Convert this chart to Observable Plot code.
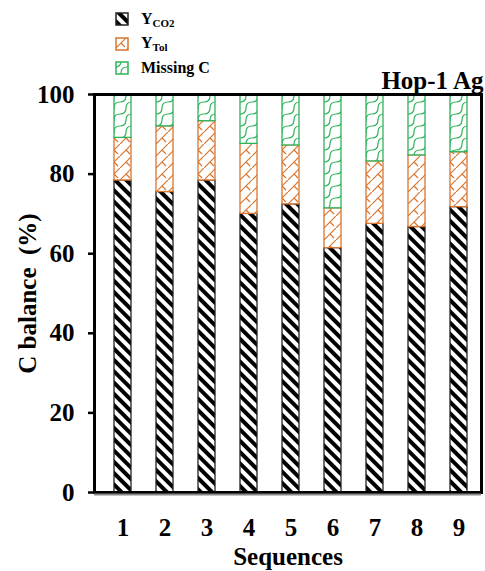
<!DOCTYPE html>
<html><head><meta charset="utf-8">
<script src="https://cdn.jsdelivr.net/npm/d3@7"></script>
<script src="https://cdn.jsdelivr.net/npm/@observablehq/plot@0.6"></script>
<style>
body{margin:0;background:#fff;font-family:"Liberation Serif",serif;}
#wrap{position:relative;width:485px;height:571px;}
#legend{position:absolute;left:115px;top:7px;font-family:"Liberation Serif",serif;font-weight:bold;font-size:16px;color:#000;}
.row{display:flex;align-items:center;height:24.5px;}
.row svg{margin-right:12px;flex:none}
sub{font-size:11px;vertical-align:-3px;}
svg text{font-family:"Liberation Serif",serif;}
</style></head><body>
<div id="wrap"><div id="legend"></div></div>
<script>
const sequences = ["1","2","3","4","5","6","7","8","9"];
const seriesNames = ["YCO2","YTol","Missing C"];
const yCO2     = [78.4, 75.5, 78.4, 70.0, 72.4, 61.4, 67.5, 66.7, 71.7];
const yTol     = [10.7, 16.5, 14.9, 17.6, 14.8, 10.0, 15.7, 18.0, 13.8];
const missingC = [10.9,  8.0,  6.7, 12.4, 12.8, 28.6, 16.8, 15.3, 14.5];
const yTicks = [0, 20, 40, 60, 80, 100];

const seriesValues = [yCO2, yTol, missingC];
const patternIds = ["pCO2", "pTol", "pMiss"];
const strokeColors = ["#222", "#D8752F", "#2EB35B"];
const serif = "Liberation Serif";

const data = [];
sequences.forEach((s, i) => seriesNames.forEach((n, k) => data.push({seq: s, series: n, k, value: seriesValues[k][i]})));

const chart = Plot.plot({
  width: 485, height: 571,
  marginTop: 94, marginBottom: 79, marginLeft: 94, marginRight: 4,
  style: {fontFamily: serif, fontWeight: "bold", color: "#000", background: "white"},
  x: {domain: sequences, range: [97.6, 483.4], paddingInner: 0.6, paddingOuter: 0.3},
  y: {domain: [0, 100]},
  color: {type: "identity"},
  marks: [
    Plot.barY(data, {x: "seq", y: "value", fill: d => `url(#${patternIds[d.k]})`, stroke: d => strokeColors[d.k], strokeWidth: 1.3}),
    Plot.frame({stroke: "#000", strokeWidth: 3}),
    Plot.ruleY([0], {stroke: "#8a8a8a", strokeWidth: 2, dy: 2}),
    Plot.axisY({ticks: yTicks, tickSize: 6, tickPadding: 14, fontSize: 25, fontFamily: serif, fontWeight: "bold", strokeWidth: 2.5,
      label: "C balance  (%)", labelAnchor: "center", labelArrow: "none", labelOffset: 76}),
    Plot.axisX({tickSize: 0, tickPadding: 26, fontSize: 25, fontFamily: serif, fontWeight: "bold",
      label: "Sequences", labelAnchor: "center", labelArrow: "none", labelOffset: 72}),
    Plot.text(["Hop-1 Ag"], {frameAnchor: "top-right", dx: 2, dy: -6, lineAnchor: "bottom", textAnchor: "end", fontSize: 25, fontFamily: serif, fontWeight: "bold"})
  ]
});

const defsHTML = `
<pattern id="pCO2" patternUnits="userSpaceOnUse" width="8" height="8" patternTransform="rotate(-45)">
  <rect width="8" height="8" fill="white"/><rect width="4" height="8" fill="black"/>
</pattern>
<pattern id="pTol" patternUnits="userSpaceOnUse" width="12" height="12">
  <rect width="12" height="12" fill="white"/>
  <path d="M0,12 L12,0 M6,6 L10,10" stroke="#D8752F" stroke-width="1.2" fill="none"/>
</pattern>
<pattern id="pMiss" patternUnits="userSpaceOnUse" width="12" height="12">
  <rect width="12" height="12" fill="white"/>
  <path d="M0,6 Q6,6 6,0 M6,12 Q6,6 12,6" stroke="#2EB35B" stroke-width="1.2" fill="none"/>
</pattern>`;
const defs = document.createElementNS("http://www.w3.org/2000/svg", "defs");
defs.innerHTML = defsHTML;
chart.insertBefore(defs, chart.firstChild);
document.getElementById("wrap").appendChild(chart);

const labelsHTML = ["Y<sub>CO2</sub>", "Y<sub>Tol</sub>", "Missing C"];
const legend = d3.select("#legend");
seriesNames.forEach((n, k) => {
  const row = legend.append("div").attr("class", "row");
  const sw = row.append("svg").attr("width", 14).attr("height", 14);
  sw.append("rect").attr("x", 1).attr("y", 1).attr("width", 12).attr("height", 12)
    .attr("fill", `url(#${patternIds[k]})`).attr("stroke", strokeColors[k]).attr("stroke-width", 1.5);
  row.append("span").html(labelsHTML[k]);
});
</script>
</body></html>
